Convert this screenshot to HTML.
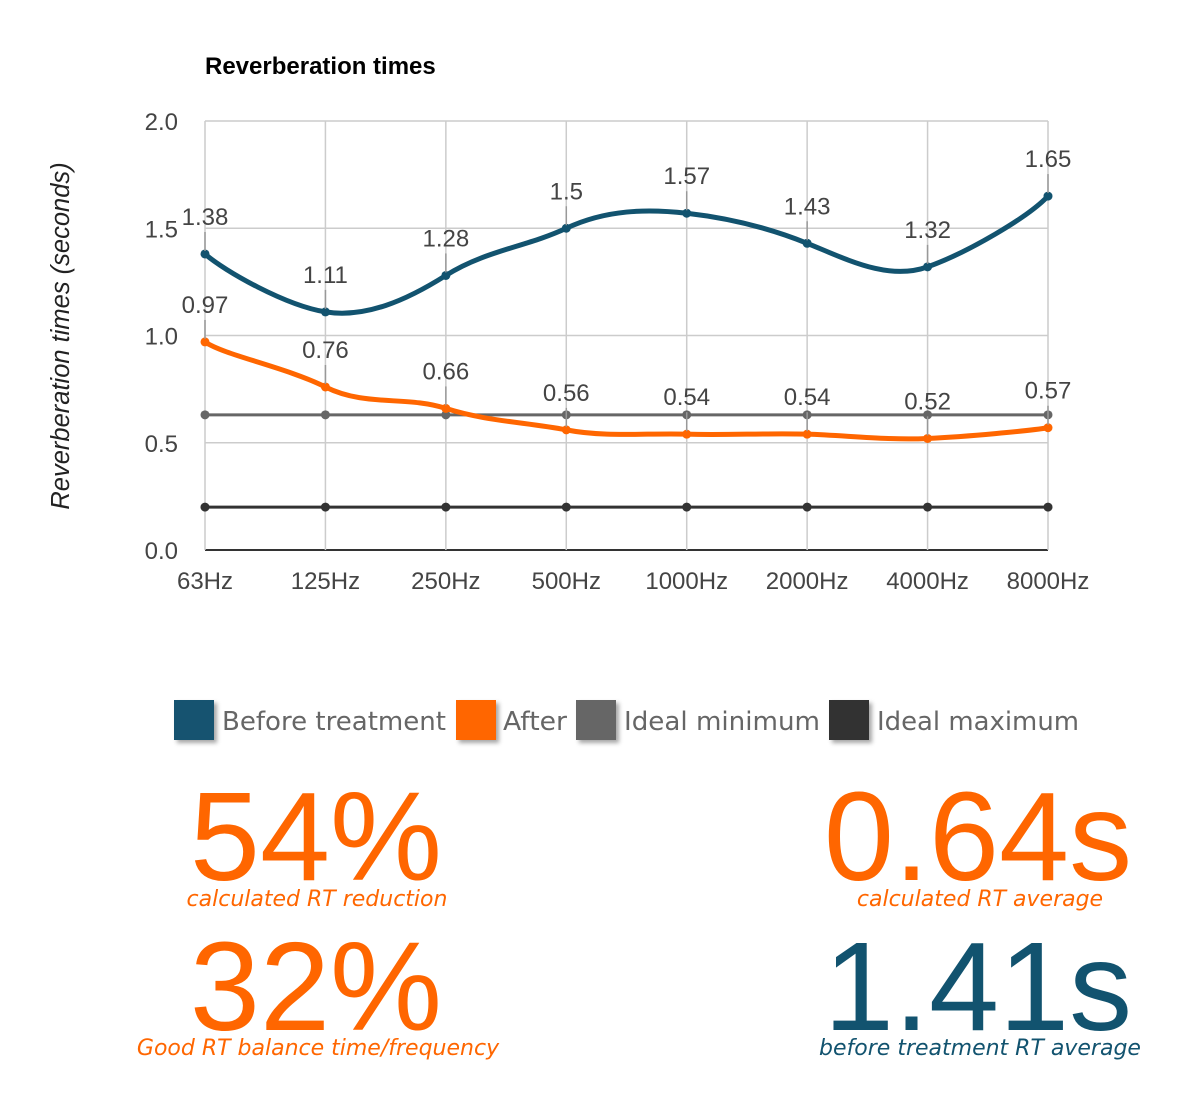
<!DOCTYPE html>
<html><head><meta charset="utf-8"><style>
body{margin:0;background:#fff;}
svg{display:block;font-family:"Liberation Sans",Arial,sans-serif;}
</style></head><body>
<svg id="c" width="1202" height="1095">
<defs><filter id="sh" x="-20%" y="-20%" width="150%" height="150%"><feDropShadow dx="3" dy="3" stdDeviation="2" flood-color="#000" flood-opacity="0.35"/></filter></defs>
<text x="205" y="74" font-size="24" font-weight="bold" fill="#000">Reverberation times</text>
<text transform="translate(69,336) rotate(-90)" text-anchor="middle" font-size="25.5" font-style="italic" fill="#222">Reverberation times (seconds)</text>
<g id="grid"></g><g id="series"></g><g id="labels"></g>
<g font-family="'DejaVu Sans',sans-serif" font-size="26" fill="#666">
<g><rect x="174" y="700" width="40" height="40" fill="#12536f" filter="url(#sh)"/><text x="222" y="730" textLength="224" lengthAdjust="spacingAndGlyphs">Before treatment</text></g>
<g><rect x="456" y="700" width="40" height="40" fill="#ff6600" filter="url(#sh)"/><text x="503" y="730" textLength="64" lengthAdjust="spacingAndGlyphs">After</text></g>
<g><rect x="576" y="700" width="40" height="40" fill="#666" filter="url(#sh)"/><text x="624" y="730" textLength="196" lengthAdjust="spacingAndGlyphs">Ideal minimum</text></g>
<g><rect x="829" y="700" width="40" height="40" fill="#333" filter="url(#sh)"/><text x="877" y="730" textLength="202" lengthAdjust="spacingAndGlyphs">Ideal maximum</text></g>
</g>
<g text-anchor="middle">
<text x="316" y="880" font-size="126" fill="#ff6600">54%</text>
<text x="317" y="906" font-size="22" font-style="italic" fill="#ff6600" font-family="'DejaVu Sans',sans-serif">calculated RT reduction</text>
<text x="316" y="1030" font-size="126" fill="#ff6600">32%</text>
<text x="318" y="1055" font-size="22" font-style="italic" fill="#ff6600" font-family="'DejaVu Sans',sans-serif">Good RT balance time/frequency</text>
<text x="978" y="880" font-size="126" fill="#ff6600">0.64s</text>
<text x="980" y="906" font-size="22" font-style="italic" fill="#ff6600" font-family="'DejaVu Sans',sans-serif">calculated RT average</text>
<text x="978" y="1030" font-size="126" fill="#12536f">1.41s</text>
<text x="980" y="1055" font-size="22" font-style="italic" fill="#12536f" font-family="'DejaVu Sans',sans-serif">before treatment RT average</text>
</g>
</svg>
<script>
const categories=["63Hz","125Hz","250Hz","500Hz","1000Hz","2000Hz","4000Hz","8000Hz"];
const before=[1.38,1.11,1.28,1.5,1.57,1.43,1.32,1.65];
const after=[0.97,0.76,0.66,0.56,0.54,0.54,0.52,0.57];
const idealMin=[0.63,0.63,0.63,0.63,0.63,0.63,0.63,0.63];
const idealMax=[0.2,0.2,0.2,0.2,0.2,0.2,0.2,0.2];
const yTicks=[0,0.5,1.0,1.5,2.0];
const NS="http://www.w3.org/2000/svg";
const X0=205,X1=1048,Y0=550,Y1=121;
const x=i=>X0+i*(X1-X0)/(categories.length-1);
const y=v=>Y0-(v/2)*(Y0-Y1);
function mk(t,a,p){const e=document.createElementNS(NS,t);for(const k in a)e.setAttribute(k,a[k]);p.appendChild(e);return e;}
const grid=document.getElementById('grid'),ser=document.getElementById('series'),lab=document.getElementById('labels');
yTicks.forEach(v=>{
 const l=mk('line',{x1:X0,x2:X1,y1:y(v),y2:y(v),stroke:v===0?'#333':'#ccc','stroke-width':v===0?2:1.5},grid);
 
 
 const t=mk('text',{x:178,y:y(v)+9,'text-anchor':'end','font-size':24,fill:'#444'},grid);
 t.textContent=v.toFixed(1);
 
 
});
categories.forEach((c,i)=>{
 const l=mk('line',{x1:x(i),x2:x(i),y1:Y1,y2:Y0,stroke:'#ccc','stroke-width':1.5},grid);
 
 
 const t=mk('text',{x:x(i),y:589,'text-anchor':'middle','font-size':24,fill:'#444'},grid);
 t.textContent=c;
 
 
});
function path(vals,smooth){
 const p=vals.map((v,i)=>[x(i),y(v)]);
 let d='M'+p[0][0]+','+p[0][1];
 for(let i=0;i<p.length-1;i++){
  if(!smooth){d+='L'+p[i+1][0]+','+p[i+1][1];continue;}
  const a=p[Math.max(0,i-1)],b=p[i],c=p[i+1],e=p[Math.min(p.length-1,i+2)],k=0.3;
  d+='C'+(b[0]+(c[0]-a[0])*k/2*1.1)+','+(b[1]+(c[1]-a[1])*k)+' '+(c[0]-(e[0]-b[0])*k/2*1.1)+','+(c[1]-(e[1]-b[1])*k)+' '+c[0]+','+c[1];
 }
 return d;
}
function series(vals,color,w,smooth,name,r){
 const p=mk('path',{d:path(vals,smooth),fill:'none',stroke:color,'stroke-width':w},ser);
 
 
 vals.forEach((v,i)=>{
  const c=mk('circle',{cx:x(i),cy:y(v),r:r,fill:color},ser);
  
  
 });
}
series(idealMax,'#333',3,false,'ideal-maximum',4.5);
series(idealMin,'#666',3,false,'ideal-minimum',4.5);
series(after,'#ff6600',5,true,'after',4.5);
series(before,'#12536f',5,true,'before',4.5);
function labels(vals,name){
 vals.forEach((v,i)=>{
  const l=mk('line',{x1:x(i),x2:x(i),y1:y(v)-22,y2:y(v)-3,stroke:'#999','stroke-width':1.5},lab);
  
  
  const t=mk('text',{x:x(i),y:y(v)-29,'text-anchor':'middle','font-size':24,fill:'#444'},lab);
  t.textContent=String(v);
  
  
 });
}
labels(before,'before');labels(after,'after');
</script>
</body></html>
